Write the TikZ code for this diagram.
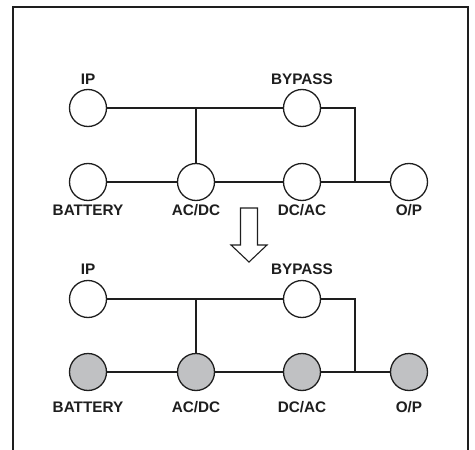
\documentclass[tikz,border=0pt]{standalone}
\usepackage{fontspec}
\setmainfont{Liberation Sans}
\definecolor{fillgray}{RGB}{192,193,195}
\definecolor{ink}{RGB}{30,30,30}
\tikzset{
  unit/.style={circle, draw=ink, line width=1.3pt, minimum size=37pt, inner sep=0pt, fill=white},
  unitg/.style={unit, fill=fillgray},
  lab/.style={font=\fontsize{15.3}{15}\selectfont\bfseries, text=ink, inner sep=0pt, text height=10.9pt, text depth=0pt},
  wire/.style={draw=ink, line width=2.7pt},
  frame/.style={draw=ink, line width=2.2pt},
  bigarrow/.style={draw=ink, line width=1.1pt, fill=white, line join=miter}
}
\begin{document}
\begin{tikzpicture}[x=1pt,y=-1pt]
\useasboundingbox (0,0) rectangle (475,450);
\draw[frame] (13,452) -- (13,7) -- (468,7) -- (468,452);
% top diagram
\node[unit] (ip1) at (88,108) {};
\node[unit] (by1) at (302,108) {};
\node[unit] (ba1) at (88,182) {};
\node[unit] (ad1) at (196,182) {};
\node[unit] (da1) at (302,182) {};
\node[unit] (op1) at (409,182) {};
\node[lab] (lip1) at (88,79) {IP};
\node[lab] (lby1) at (302,79) {BYPASS};
\node[lab] (lba1) at (88,210) {BATTERY};
\node[lab] (lad1) at (196,210) {AC/DC};
\node[lab] (lda1) at (302,210) {DC/AC};
\node[lab] (lop1) at (409,210) {O/P};
\coordinate (j1) at (355,108);
\coordinate (k1) at (355,182);
\draw[wire] (ip1.east) -- (by1.west);
\draw[wire] (ad1.north) -- (ad1.north |- ip1.east);
\draw[wire] (by1.east) -- (j1) -- (k1);
\draw[wire] (ba1.east) -- (ad1.west);
\draw[wire] (ad1.east) -- (da1.west);
\draw[wire] (da1.east) -- (op1.west);
% arrow
\draw[bigarrow] (240.5,208) -- (257.5,208) -- (257.5,245) -- (267,245) -- (249,262) -- (231,245) -- (240.5,245) -- cycle;
% bottom diagram
\node[unit] (ip2) at (88,299) {};
\node[unit] (by2) at (302,299) {};
\node[unitg] (ba2) at (88,372) {};
\node[unitg] (ad2) at (196,372) {};
\node[unitg] (da2) at (302,372) {};
\node[unitg] (op2) at (409,372) {};
\node[lab] (lip2) at (88,269) {IP};
\node[lab] (lby2) at (302,269) {BYPASS};
\node[lab] (lba2) at (88,407) {BATTERY};
\node[lab] (lad2) at (196,407) {AC/DC};
\node[lab] (lda2) at (302,407) {DC/AC};
\node[lab] (lop2) at (409,407) {O/P};
\coordinate (j2) at (355,299);
\coordinate (k2) at (355,372);
\draw[wire] (ip2.east) -- (by2.west);
\draw[wire] (ad2.north) -- (ad2.north |- ip2.east);
\draw[wire] (by2.east) -- (j2) -- (k2);
\draw[wire] (ba2.east) -- (ad2.west);
\draw[wire] (ad2.east) -- (da2.west);
\draw[wire] (da2.east) -- (op2.west);
\end{tikzpicture}
\end{document}
